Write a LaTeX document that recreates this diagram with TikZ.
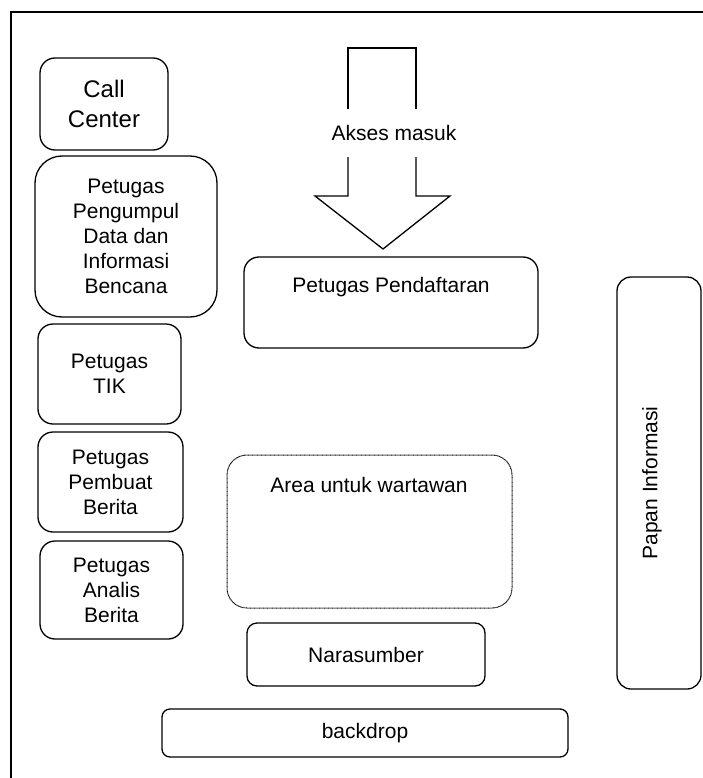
\documentclass[tikz,border=0pt]{standalone}
\usepackage{fontspec}
\setmainfont{Liberation Sans}
\begin{document}
\begin{tikzpicture}[x=1pt,y=-1pt,
  box/.style={draw,line width=1.3pt,rounded corners=#1,inner sep=0pt,
    font=\fontsize{21}{25}\selectfont,align=center},
  box/.default=14pt,
  txt/.style={font=\fontsize{21}{25}\selectfont,align=center,inner sep=0pt},
]
\useasboundingbox (0,0) rectangle (703,778);
% outer frame
\draw[line width=2pt] (10.5,778) -- (10.5,12) -- (703,12);

% left column
\node[box=15pt,minimum width=128pt,minimum height=92pt,
  font=\fontsize{24}{30}\selectfont] (cc) at (104,104) {Call\\Center};
\node[box=27pt,minimum width=182pt,minimum height=161pt] (pg) at (126,236.5)
  {Petugas\\Pengumpul\\Data dan\\Informasi\\Bencana};
\node[box=15pt,minimum width=143pt,minimum height=100pt] (tik) at (109.5,374)
  {Petugas\\TIK};
\node[box=15pt,minimum width=145pt,minimum height=100pt] (pb) at (110.5,482)
  {Petugas\\Pembuat\\Berita};
\node[box=15pt,minimum width=143pt,minimum height=98pt] (an) at (111.5,590)
  {Petugas\\Analis\\Berita};

% entrance arrow
\draw[line width=1.3pt] (348,120) -- (348,48) -- (416,48) -- (416,120);
\draw[line width=1.3pt,line join=miter] (348,150) -- (348,196) -- (315,196)
  -- (383,249) -- (450,196) -- (416,196) -- (416,150);
\node[txt,fill=white,minimum height=48pt,minimum width=130pt] (akses) at (394,133) {Akses masuk};

% registration
\node[box=15pt,minimum width=294pt,minimum height=91pt] (pd) at (391,302.5) {};
\node[txt] (pdt) at (391,287) {Petugas Pendaftaran};

% press area
\node[draw,line width=1pt,dash pattern=on 0.8pt off 0.5pt,rounded corners=20pt,inner sep=0pt,
  minimum width=285pt,minimum height=153pt] (area) at (369.5,531.5) {};
\node[txt] (areat) at (369,485) {Area untuk wartawan};

% speaker and backdrop
\node[box=10pt,minimum width=238pt,minimum height=63pt] (nr) at (366,654.5) {Narasumber};
\node[box=8pt,minimum width=406pt,minimum height=48pt] (bd) at (365,733) {backdrop};

% information board
\node[box=14pt,minimum width=84pt,minimum height=412pt] (pi) at (659,483) {};
\node[txt,rotate=90] (pit) at (652,483) {Papan Informasi};
\end{tikzpicture}
\end{document}
